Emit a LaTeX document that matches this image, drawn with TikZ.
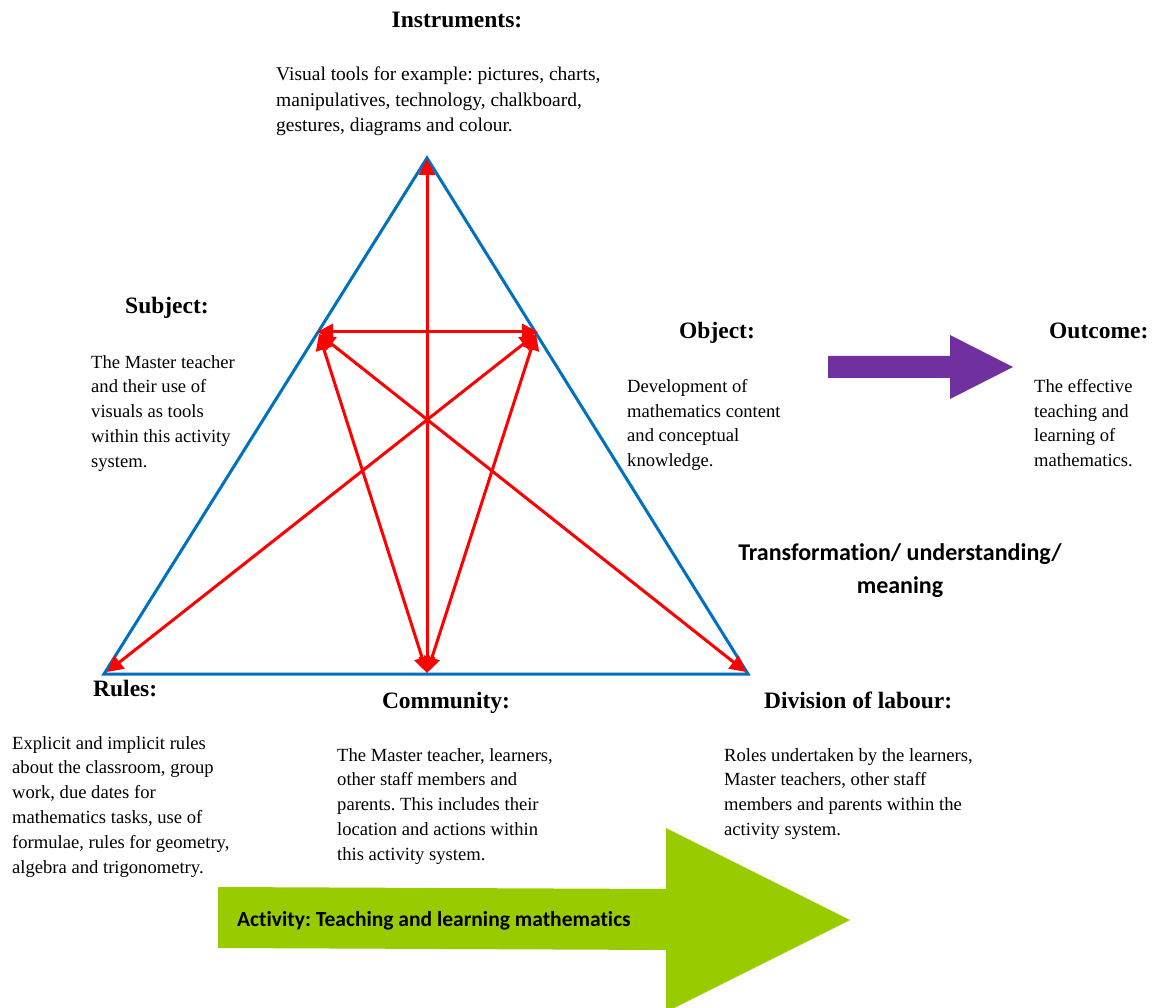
\documentclass[tikz,border=0pt]{standalone}
\usepackage{fontspec}
\setmainfont{Liberation Serif}
\newfontfamily\calib[Ligatures=NoCommon]{Carlito}
\usetikzlibrary{arrows.meta}
\definecolor{triblue}{RGB}{0,112,192}
\definecolor{linkred}{RGB}{255,0,0}
\definecolor{outpurple}{RGB}{112,48,160}
\definecolor{actgreen}{RGB}{153,204,0}
\frenchspacing
\begin{document}
\begin{tikzpicture}[x=1pt,y=-1pt,
  heading/.style={inner sep=0pt,anchor=base west,font=\fontsize{23.5}{28}\selectfont\bfseries},
  body/.style={inner sep=0pt,anchor=north west,align=left,font=\fontsize{18.6}{24.8}\selectfont},
  calbold/.style={inner sep=0pt,align=center,font=\fontsize{24}{33}\selectfont\calib\bfseries},
  side/.style={draw=triblue,line width=3pt,line join=miter},
  link/.style={draw=linkred,line width=3pt,{Triangle[length=16pt,width=16pt]}-{Triangle[length=16pt,width=16pt]}}]
\useasboundingbox (0,0) rectangle (1160,1008);
\fill[white] (0,0) rectangle (1160,1008);

% corners of the activity triangle and the two points on its sides
\coordinate (apex) at (427,158);
\coordinate (bl) at (104,674);
\coordinate (br) at (748,674);
\coordinate (lp) at (317,332);
\coordinate (rp) at (538,332);
\coordinate (lpd) at (319,334);
\coordinate (rpd) at (536,334);
\coordinate (topend) at (427,159);
\coordinate (botend) at (427,673);
\coordinate (blend) at (107,672);
\coordinate (brend) at (746,672);

\draw[side] (apex) -- (bl) -- (br) -- cycle;

% mediating links
\draw[link] (topend) -- (botend);
\draw[link] (lp) -- (rp);
\draw[link] (lpd) -- (botend);
\draw[link] (rpd) -- (botend);
\draw[link] (lpd) -- (brend);
\draw[link] (rpd) -- (blend);

% outcome arrow
\fill[outpurple] (828,356) -- (950,356) -- (950,335) -- (1013,367) -- (950,399) -- (950,378) -- (828,378) -- cycle;

% activity arrow
\fill[actgreen] (218,887) -- (666,889) -- (666,828) -- (850,920) -- (666,1012) -- (666,950) -- (218,948) -- cycle;

% headings
\node[heading,anchor=base] (hinst) at (457,28) {Instruments:};
\node[heading] (hsubj) at (125,314) {Subject:};
\node[heading] (hobj) at (679,339) {Object:};
\node[heading] (hout) at (1049,339) {Outcome:};
\node[heading] (hrules) at (93,696) {Rules:};
\node[heading,anchor=base] (hcomm) at (446,708) {Community:};
\node[heading] (hdiv) at (764,708) {Division of labour:};

% descriptions
\node[body,font=\fontsize{19.5}{25.5}\selectfont] (tinst) at (276,67) {Visual tools for example: pictures, charts,\\manipulatives, technology, chalkboard,\\gestures, diagrams and colour.};
\node[body] (tsubj) at (91,355) {The Master teacher\\and their use of\\visuals as tools\\within this activity\\system.};
\node[body] (tobj) at (627,379) {Development of\\mathematics content\\and conceptual\\knowledge.};
\node[body] (tout) at (1034,379) {The effective\\teaching and\\learning of\\mathematics.};
\node[body] (trules) at (12,736) {Explicit and implicit rules\\about the classroom, group\\work, due dates for\\mathematics tasks, use of\\formulae, rules for geometry,\\algebra and trigonometry.};
\node[body] (tcomm) at (337,748) {The Master teacher, learners,\\other staff members and\\parents. This includes their\\location and actions within\\this activity system.};
\node[body] (tdiv) at (724,748) {Roles undertaken by the learners,\\Master teachers, other staff\\members and parents within the\\activity system.};

% transformation label and activity label
\node[calbold] (trans) at (900,571) {Transformation/ understanding/\\meaning};
\node[inner sep=0pt,anchor=base west,font=\fontsize{21.5}{25}\selectfont\calib\bfseries] (act) at (237,926) {Activity: Teaching and learning mathematics};
\end{tikzpicture}
\end{document}
